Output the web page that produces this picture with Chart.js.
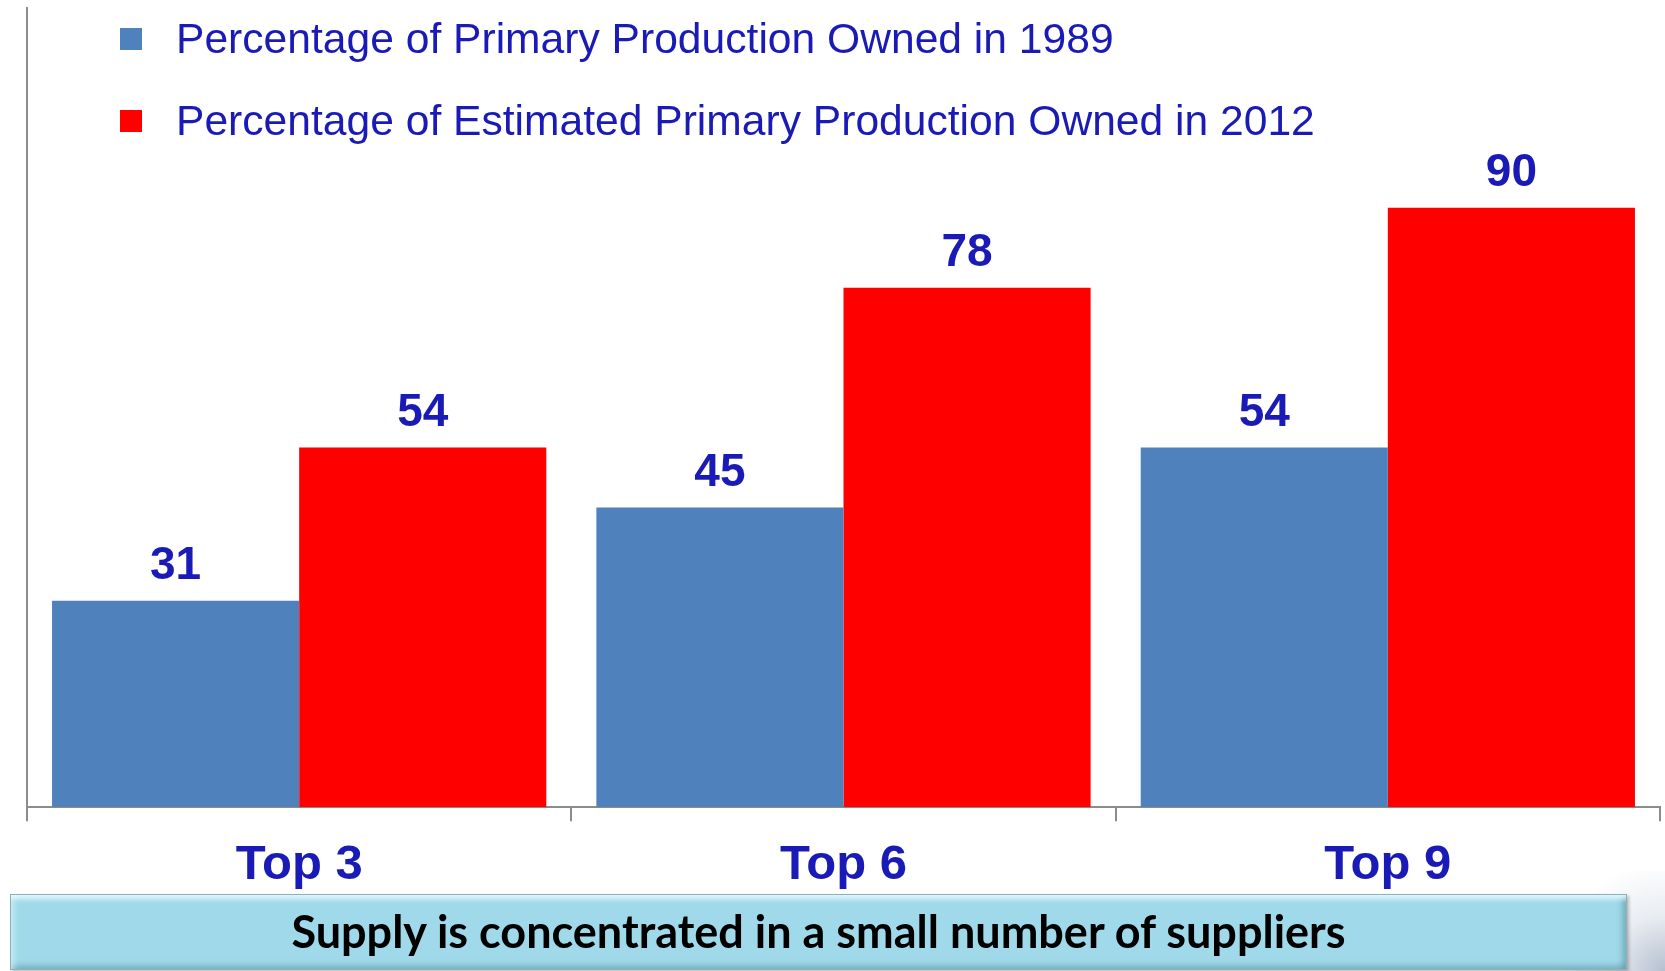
<!DOCTYPE html>
<html>
<head>
<meta charset="utf-8">
<title>Supply concentration</title>
<script src="https://cdn.jsdelivr.net/npm/chart.js@4/dist/chart.umd.min.js"></script>
<style>
    html, body { margin: 0; padding: 0; background: #ffffff; }
    #wrap { position: relative; width: 1665px; height: 971px; overflow: hidden; }
    #chart { position: absolute; left: 0; top: 0; }
    #corner {
        position: absolute; right: 0; bottom: 0; width: 120px; height: 100px;
        background: radial-gradient(circle at 100% 100%, rgba(120,140,170,0.55) 0%, rgba(190,200,215,0.35) 35%, rgba(255,255,255,0) 70%);
    }
    #banner {
        position: absolute; left: 10px; top: 894px; width: 1617px; height: 76px;
        box-sizing: border-box;
        background: #a0d9e9;
        border: 1px solid #8fb0b8;
        box-shadow: inset 0 7px 5px -3px rgba(235,255,255,0.85),
                    inset 7px 0 6px -4px rgba(225,250,255,0.6),
                    inset -7px 0 6px -4px rgba(60,120,135,0.5),
                    inset 0 -7px 6px -4px rgba(60,120,135,0.45),
                    2px 2px 3px rgba(0,0,0,0.25);
        font-family: Lato, "Open Sans", sans-serif;
        font-weight: bold;
        font-size: 45px;
        color: #000000;
        text-align: center;
        line-height: 72px;
    }
</style>
</head>
<body>
<div id="wrap">
    <canvas id="chart" width="1665" height="971"></canvas>
    <div id="corner"></div>
    <div id="banner">Supply is concentrated in a small number of suppliers</div>
</div>
<script>
var categories = ['Top 3', 'Top 6', 'Top 9'];
var owned1989 = [31, 45, 54];
var owned2012 = [54, 78, 90];
var seriesNames = [
    'Percentage of Primary Production Owned in 1989',
    'Percentage of Estimated Primary Production Owned in 2012'
];
var yMin = 0;
var yMax = 120;

var textBlue = '#1a1ab6';
var axisGray = '#8c8c8c';

// legend drawn inside the plot area, top left
var insideLegend = {
    id: 'insideLegend',
    afterDraw: function(chart) {
        var ctx = chart.ctx;
        ctx.save();
        ctx.font = '42.6px "Liberation Sans", Arial, sans-serif';
        ctx.textBaseline = 'alphabetic';
        ctx.textAlign = 'left';
        chart.data.datasets.forEach(function(ds, i) {
            var rowTop = 28 + i * 82;
            ctx.fillStyle = ds.backgroundColor;
            ctx.fillRect(120, rowTop, 22, 22);
            ctx.fillStyle = textBlue;
            ctx.fillText(ds.label, 176, rowTop + 25);
        });
        ctx.restore();
    }
};

// value labels above bars
var barValues = {
    id: 'barValues',
    afterDatasetsDraw: function(chart) {
        var ctx = chart.ctx;
        ctx.save();
        ctx.font = 'bold 46px "Liberation Sans", Arial, sans-serif';
        ctx.fillStyle = textBlue;
        ctx.textAlign = 'center';
        ctx.textBaseline = 'alphabetic';
        chart.data.datasets.forEach(function(ds, i) {
            chart.getDatasetMeta(i).data.forEach(function(bar, j) {
                ctx.fillText(String(ds.data[j]), bar.x, bar.y - 22);
            });
        });
        ctx.restore();
    }
};

var ctx = document.getElementById('chart').getContext('2d');
new Chart(ctx, {
    type: 'bar',
    data: {
        labels: categories,
        datasets: [
            {
                label: seriesNames[0],
                data: owned1989,
                backgroundColor: '#4f81bd',
                borderWidth: 0
            },
            {
                label: seriesNames[1],
                data: owned2012,
                backgroundColor: '#ff0000',
                borderWidth: 0
            }
        ]
    },
    options: {
        responsive: false,
        animation: false,
        layout: {
            padding: { top: 8, left: 27, right: 5, bottom: 61 }
        },
        datasets: {
            bar: { categoryPercentage: 0.908, barPercentage: 1.0 }
        },
        plugins: {
            legend: { display: false },
            tooltip: { enabled: false }
        },
        scales: {
            x: {
                grid: {
                    display: true,
                    drawOnChartArea: false,
                    drawTicks: true,
                    tickLength: 14,
                    color: axisGray,
                    lineWidth: 2,
                    offset: true
                },
                border: { display: true, color: axisGray, width: 2 },
                ticks: {
                    color: textBlue,
                    padding: 15,
                    font: { family: '"Liberation Sans", Arial, sans-serif', size: 49, weight: 'bold' }
                }
            },
            y: {
                min: yMin,
                max: yMax,
                grid: { display: false, drawTicks: false },
                border: { display: true, color: axisGray, width: 2 },
                ticks: { display: false }
            }
        }
    },
    plugins: [insideLegend, barValues]
});
</script>
</body>
</html>
